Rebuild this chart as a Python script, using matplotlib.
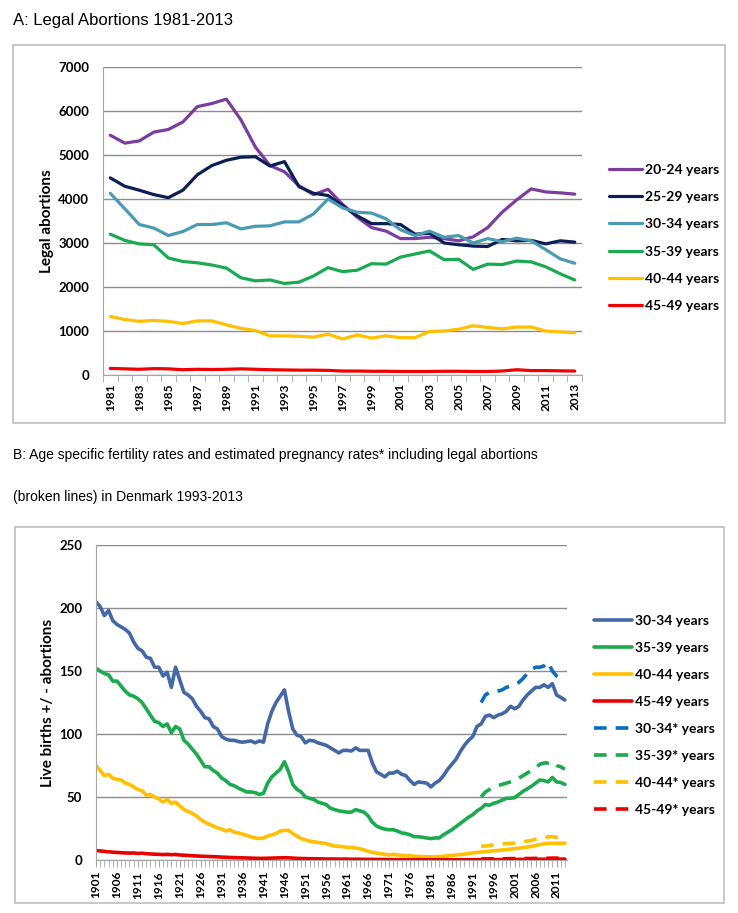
import pandas as pd
import matplotlib.pyplot as plt
from matplotlib.patches import Rectangle

# ---- Panel A data: legal abortions 1981-2013 ----
years_a = list(range(1981, 2014))
ab_20_24 = [5450, 5270, 5320, 5520, 5580, 5750, 6100, 6170, 6270, 5800, 5180,
            4760, 4620, 4300, 4100, 4220, 3880, 3590, 3350, 3270, 3100, 3100,
            3130, 3100, 3050, 3140, 3350, 3700, 3980, 4230, 4160, 4140, 4110]
ab_25_29 = [4480, 4290, 4200, 4100, 4030, 4200, 4550, 4760, 4880, 4950, 4960,
            4750, 4850, 4280, 4130, 4080, 3850, 3620, 3440, 3440, 3420, 3200,
            3220, 3000, 2960, 2930, 2920, 3080, 3050, 3060, 2980, 3050, 3020]
ab_30_34 = [4130, 3780, 3420, 3340, 3170, 3260, 3420, 3420, 3460, 3320, 3380,
            3390, 3480, 3480, 3660, 4000, 3800, 3700, 3680, 3550, 3300, 3170,
            3270, 3130, 3170, 3000, 3100, 3030, 3110, 3050, 2850, 2640, 2540]
ab_35_39 = [3200, 3060, 2980, 2960, 2660, 2580, 2550, 2500, 2430, 2210, 2140,
            2160, 2080, 2110, 2250, 2440, 2350, 2380, 2530, 2520, 2680, 2750,
            2820, 2620, 2630, 2400, 2520, 2510, 2590, 2570, 2460, 2300, 2160]
ab_40_44 = [1330, 1260, 1220, 1240, 1220, 1170, 1230, 1230, 1140, 1060, 1010,
            890, 890, 880, 860, 930, 820, 910, 840, 890, 850, 850,
            990, 1000, 1040, 1120, 1080, 1050, 1090, 1090, 1000, 980, 960]
ab_45_49 = [150, 140, 130, 145, 140, 120, 130, 125, 130, 140, 130,
            120, 115, 110, 110, 105, 90, 90, 85, 85, 80, 80,
            80, 85, 85, 80, 80, 90, 120, 100, 100, 95, 90]

# ---- Panel B data: rates 1901-2013 ----
years_b = list(range(1901, 2014))
fr_30_34 = [205, 201, 194, 198, 190, 187, 185, 183, 180, 173,
            168, 166, 161, 160, 153, 153, 146, 149, 137, 153,
            143, 133, 131, 128, 122, 118, 113, 112, 106, 104,
            98, 96, 95, 95, 94, 93.5, 94, 94.5, 93, 94.5,
            93.5, 108, 118, 125, 130, 135, 118, 104, 99, 98,
            93, 95, 94.5, 93, 92, 91, 89, 87, 85, 87,
            87, 86.5, 89, 87, 87, 87, 77, 70, 68, 66,
            69, 69, 70.5, 68, 67, 63, 60, 62, 61.5, 61,
            58, 61, 63, 67, 72, 76, 80, 86, 91, 95,
            98, 106, 108, 114, 115, 113, 115, 116, 118, 122,
            120, 122, 127, 131, 134, 137, 137, 139, 137, 140,
            131, 129, 127]
fr_35_39 = [152, 150, 148, 147, 142, 142, 138, 134, 131, 130,
            128, 125, 120, 115, 110, 109, 106, 108, 101, 106,
            104, 95, 92, 88, 84, 79, 74, 74, 71, 69,
            65, 63, 60, 59, 57, 55.5, 54, 54, 53.5, 52,
            53, 61, 66, 69, 72, 78, 70, 60, 56, 54,
            50, 49, 48, 46, 45, 44, 41, 40, 39, 38.5,
            38, 38, 40, 39, 38, 35, 30, 27, 25.5, 24.5,
            24, 24, 23, 21.5, 21, 20, 18.5, 18.5, 18, 17.5,
            17, 17.5, 17.5, 20, 22, 24, 26.5, 29, 31.5, 34,
            36, 39, 41, 44, 43.5, 45, 46, 47.5, 49, 49,
            49.5, 52, 54.5, 56.5, 58.5, 61, 63.5, 63, 62, 65.5,
            62, 61.5, 60]
fr_40_44 = [75, 71, 67, 68, 65, 64, 63.5, 61, 60, 58,
            56, 55, 51.5, 52, 50, 48.5, 46, 48, 45, 46,
            43, 40, 38.5, 37, 35, 32, 30, 28.5, 27, 25.5,
            24.5, 23, 24, 22, 21.5, 20.5, 19.5, 18.5, 17.5, 17,
            17.5, 19, 20, 21, 23, 23.5, 23.5, 21, 19, 17,
            16, 15, 14.5, 14, 13.5, 13, 12, 11, 11, 10.5,
            10, 10, 9.5, 9, 8, 7, 6, 5.5, 5, 4.5,
            4, 4.5, 4, 3.7, 3.5, 3.3, 3, 2.8, 2.7, 2.6,
            2.5, 2.6, 2.7, 3, 3.3, 3.6, 4, 4.3, 4.7, 5.2,
            5.6, 6, 6.3, 6.6, 7, 7.3, 7.6, 7.9, 8.2, 8.6,
            9, 9.4, 9.8, 10.3, 10.8, 11.5, 12.2, 12.8, 13.2, 13.3,
            13.3, 13.2, 13.3]
fr_45_49 = [7.5, 7.2, 6.8, 6.5, 6.2, 6.0, 5.8, 5.6, 5.5, 5.6,
            5.2, 5.4, 5.0, 4.8, 4.6, 4.5, 4.3, 4.5, 4.2, 4.4,
            4.0, 3.8, 3.6, 3.4, 3.2, 3.0, 2.9, 2.8, 2.6, 2.5,
            2.3, 2.2, 2.0, 1.9, 1.8, 1.7, 1.6, 1.5, 1.4, 1.3,
            1.3, 1.4, 1.5, 1.6, 1.7, 1.8, 1.7, 1.5, 1.3, 1.2,
            1.1, 1.0, 1.0, 0.9, 0.9, 0.8, 0.8, 0.8, 0.7, 0.7,
            0.7, 0.6, 0.6, 0.6, 0.5, 0.5, 0.5, 0.4, 0.4, 0.4,
            0.3, 0.3, 0.3, 0.3, 0.2, 0.2, 0.2, 0.2, 0.2, 0.2,
            0.2, 0.2, 0.2, 0.2, 0.2, 0.2, 0.2, 0.2, 0.2, 0.2,
            0.2, 0.3, 0.3, 0.3, 0.3, 0.3, 0.3, 0.4, 0.4, 0.4,
            0.4, 0.5, 0.5, 0.5, 0.5, 0.6, 0.6, 0.6, 0.6, 0.7,
            0.7, 0.7, 0.7]

# pregnancy rates incl. abortions, 1993-2013
years_p = list(range(1993, 2014))
pr_30_34 = [125, 131, 133, 133, 134, 135, 137, 138, 139, 141, 144,
            148, 151, 153, 153, 154, 157, 150, 146, 144, 142]
pr_35_39 = [50, 54, 56, 58, 59, 60, 61, 62, 63, 65, 67,
            69, 71, 73, 76, 77, 77, 78, 75, 74, 72]
pr_40_44 = [11, 11, 11.5, 12, 12.5, 12.7, 13, 13.2, 13.5, 14, 14.5,
            15, 15.5, 16.5, 17, 17.5, 18.5, 18.5, 18, 18, 17.7]
pr_45_49 = [0.9, 0.9, 0.9, 1.0, 1.0, 1.0, 1.0, 1.1, 1.1, 1.1, 1.2,
            1.2, 1.2, 1.3, 1.3, 1.4, 1.4, 1.5, 1.5, 1.5, 1.5]

labels_a = ['20-24 years', '25-29 years', '30-34 years', '35-39 years', '40-44 years', '45-49 years']
colors_a = ['#7B3D9E', '#0C1F55', '#4A9AB4', '#1BAA52', '#FFC000', '#F20000']
labels_b = ['30-34 years', '35-39 years', '40-44 years', '45-49 years']
labels_p = ['30-34* years', '35-39* years', '40-44* years', '45-49* years']
colors_b = ['#4468A6', '#1BAA4E', '#FFC000', '#E80000']
colors_p = ['#0A6EBD', '#1BAA4E', '#FFC000', '#E80000']

df_a = pd.DataFrame(dict(zip(labels_a, [ab_20_24, ab_25_29, ab_30_34, ab_35_39, ab_40_44, ab_45_49])), index=years_a)
df_b = pd.DataFrame(dict(zip(labels_b, [fr_30_34, fr_35_39, fr_40_44, fr_45_49])), index=years_b)
df_p = pd.DataFrame(dict(zip(labels_p, [pr_30_34, pr_35_39, pr_40_44, pr_45_49])), index=years_p)

plt.rcParams['font.family'] = ['Lato', 'DejaVu Sans']
grid_c = '#8C8C8C'
W, H = 738, 913

fig = plt.figure(figsize=(7.38, 9.13), dpi=100)

def fx(px):
    return px / W

def fy(py):
    return 1 - py / H

# outer frames
fig.patches.append(Rectangle((fx(13), fy(423)), fx(712), (423 - 45) / H, transform=fig.transFigure,
                             fill=False, edgecolor='#BFBFBF', lw=1.2))
fig.patches.append(Rectangle((fx(15), fy(903)), fx(709), (903 - 527) / H, transform=fig.transFigure,
                             fill=False, edgecolor='#BFBFBF', lw=1.2))

# titles
sans = ['Liberation Sans', 'DejaVu Sans']
fig.text(fx(13), fy(20), 'A: Legal Abortions 1981-2013', family=sans,
         fontsize=12, va='center', ha='left')
fig.text(fx(13), fy(455), 'B: Age specific fertility rates and estimated pregnancy rates* including legal abortions',
         family=sans, fontsize=10, va='center', ha='left')
fig.text(fx(13), fy(497), '(broken lines) in Denmark 1993-2013',
         family=sans, fontsize=10, va='center', ha='left')


def style_axes(ax):
    ax.grid(axis='y', color=grid_c, lw=1)
    ax.set_axisbelow(True)
    for s in ['top', 'right']:
        ax.spines[s].set_visible(False)
    ax.spines['left'].set_color('#A6A6A6')
    ax.spines['bottom'].set_color('#A6A6A6')
    ax.tick_params(axis='y', length=0, pad=10, labelsize=9.5)
    for lab in ax.get_yticklabels():
        lab.set_fontweight('bold')


# ---- Panel A ----
axA = fig.add_axes([fx(103), fy(375), fx(582 - 103), (375 - 67) / H])
pos = range(len(years_a))
for lab, c in zip(labels_a, colors_a):
    axA.plot(pos, df_a[lab].values, color=c, lw=2.3, label=lab, solid_capstyle='round')
axA.set_xlim(-0.5, len(years_a) - 0.5)
axA.set_ylim(0, 7000)
axA.set_yticks(range(0, 7001, 1000))
axA.set_xticks(list(pos)[::2])
axA.set_xticklabels([str(y) for y in years_a[::2]], rotation=90, fontweight='bold', fontsize=8.5)
axA.set_xticks([p - 0.5 for p in range(len(years_a) + 1)], minor=True)
axA.tick_params(axis='x', which='major', length=0, pad=6)
axA.tick_params(axis='x', which='minor', length=5, color='#A6A6A6')
style_axes(axA)
axA.set_ylabel('Legal abortions', fontweight='bold', fontsize=11, labelpad=3)
axA.legend(loc='center left', bbox_to_anchor=(fx(603 - 103) / fx(582 - 103), 0.445), frameon=False,
           prop={'weight': 'bold', 'size': 10}, handlelength=2.4, handletextpad=0.2, labelspacing=1.1,
           borderaxespad=0)

# ---- Panel B ----
axB = fig.add_axes([fx(96), fy(860), fx(567 - 96), (860 - 545) / H])
for lab, c in zip(labels_b, colors_b):
    axB.plot(df_b.index, df_b[lab].values, color=c, lw=2.6, label=lab, solid_capstyle='round')
for lab, c in zip(labels_p, colors_p):
    axB.plot(df_p.index, df_p[lab].values, color=c, lw=2.6, label=lab, ls=(0, (3.5, 2.5)))
axB.set_xlim(1901, 2013.5)
axB.set_ylim(0, 250)
axB.set_yticks(range(0, 251, 50))
axB.set_xticks(years_b[::5])
axB.set_xticklabels([str(y) for y in years_b[::5]], rotation=90, fontweight='bold', fontsize=8.5)
axB.set_xticks(years_b, minor=True)
axB.tick_params(axis='x', which='major', length=5, color='#A6A6A6', pad=3)
axB.tick_params(axis='x', which='minor', length=5, color='#A6A6A6')
style_axes(axB)
axB.set_ylabel('Live births +/ - abortions', fontweight='bold', fontsize=11, labelpad=3)
axB.legend(loc='center left', bbox_to_anchor=(fx(588 - 96) / fx(567 - 96), 0.46), frameon=False,
           prop={'weight': 'bold', 'size': 10}, handlelength=2.8, handletextpad=0.2, labelspacing=1.08,
           borderaxespad=0)

fig.savefig('out.png', dpi=100)
